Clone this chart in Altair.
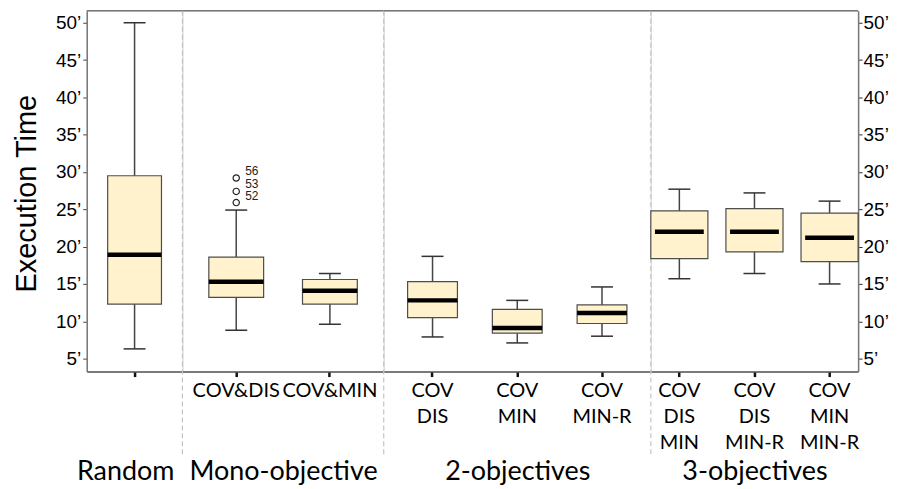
import altair as alt
import pandas as pd

# ---- data ----
categories = ["Random", "COV&DIS", "COV&MIN", "COV|DIS", "COV|MIN", "COV|MIN-R",
              "COV|DIS|MIN", "COV|DIS|MIN-R", "COV|MIN|MIN-R"]
groups = ["Random", "Mono-objective", "Mono-objective",
          "2-objectives", "2-objectives", "2-objectives",
          "3-objectives", "3-objectives", "3-objectives"]
whisker_low = [6.3, 8.8, 9.6, 7.9, 7.1, 8.0, 15.7, 16.4, 15.0]
q1 = [12.3, 13.2, 12.3, 10.5, 8.4, 9.7, 18.4, 19.3, 18.0]
median = [18.9, 15.3, 14.1, 12.8, 9.1, 11.1, 22.0, 22.0, 21.2]
q3 = [29.5, 18.6, 15.6, 15.3, 11.6, 12.2, 24.8, 25.1, 24.5]
whisker_high = [50.0, 24.9, 16.4, 18.7, 12.8, 14.6, 27.7, 27.2, 26.1]

outlier_cat = ["COV&DIS", "COV&DIS", "COV&DIS"]
outlier_values = [29.2, 27.4, 25.9]
outlier_ids = ["56", "53", "52"]

y_ticks = [5, 10, 15, 20, 25, 30, 35, 40, 45, 50]

df = pd.DataFrame({"cat": categories, "group": groups, "low": whisker_low,
                   "q1": q1, "median": median, "q3": q3, "high": whisker_high})
out_df = pd.DataFrame({"cat": outlier_cat, "value": outlier_values, "id": outlier_ids})
one = pd.DataFrame({"k": [0]})

H = 362
yscale = alt.Scale(domain=[3.26, 51.6], nice=False, zero=False)
LABEL_EXPR = "datum.value + '\u2019'"
AXIS_FONT = "Liberation Sans"


def panel(group, width, pi, po, box, title_x, side=None, divider=True):
    sub = df[df["group"] == group]
    order = list(sub["cat"])
    xaxis = alt.Axis(
        title=group, titleFont="Lato", titleFontSize=27, titleFontWeight="normal",
        titleColor="black", titleX=title_x, titleY=108, titleAlign="center",
        titleBaseline="alphabetic",
        labelExpr="datum.label == 'Random' ? '' : split(datum.label, '|')",
        labelFont="Lato", labelFontSize=20, labelColor="black", labelAngle=0,
        labelLineHeight=26, labelPadding=4, labelOverlap=False, labelBound=False,
        labelFlush=False,
        domainColor="#555", domainWidth=1.5, tickColor="#111", tickSize=5, tickWidth=2.5,
    )
    xenc = alt.X("cat:N", sort=order, axis=xaxis,
                 scale=alt.Scale(paddingInner=pi, paddingOuter=po))

    if side == "left":
        yaxis = alt.Axis(orient="left", values=y_ticks, labelExpr=LABEL_EXPR,
                         labelFont=AXIS_FONT, labelFontSize=19, labelColor="black",
                         labelPadding=2, tickSize=4, tickColor="#444",
                         domainColor="#777", domainWidth=1.5, grid=False,
                         titleFont=AXIS_FONT, titleFontSize=29, titleFontWeight="normal",
                         titleColor="black", titleX=-60, titleY=183, titleAngle=270,
                         titleAlign="center", titleBaseline="middle")
        ytitle = "Execution Time"
    elif side == "right":
        yaxis = alt.Axis(orient="right", values=y_ticks, labelExpr=LABEL_EXPR,
                         labelFont=AXIS_FONT, labelFontSize=19, labelColor="black",
                         labelPadding=1, tickSize=4, tickColor="#333",
                         domainColor="#777", domainWidth=1.5, grid=False)
        ytitle = ""
    else:
        yaxis = None
        ytitle = ""

    def Y(field):
        return alt.Y(field, type="quantitative", scale=yscale, axis=yaxis, title=ytitle)

    base = alt.Chart(sub)
    layers = []
    if divider:
        layers.append(alt.Chart(one).mark_rule(color="#c4c4c4", strokeWidth=1.2,
                                               strokeDash=[5, 3]).encode(
            x=alt.value(0), y=alt.value(0), y2=alt.value(445)))
    layers.append(alt.Chart(one).mark_rule(color="#777", strokeWidth=1.5).encode(
        x=alt.value(0), x2=alt.value(width), y=alt.value(0)))
    layers.append(base.mark_rule(color="#444", strokeWidth=1.5, opacity=1).encode(
        x=xenc, y=Y("low"), y2=alt.Y2("high")))
    layers.append(base.mark_tick(color="#333", size=22, thickness=1.5, opacity=1).encode(
        x=xenc, y=Y("low")))
    layers.append(base.mark_tick(color="#333", size=22, thickness=1.5, opacity=1).encode(
        x=xenc, y=Y("high")))
    layers.append(base.mark_bar(fill="#FFF2CC", stroke="#4d4d4d", strokeWidth=1.2,
                                opacity=1).encode(
        x=xenc, y=Y("q1"), y2=alt.Y2("q3")))
    layers.append(base.mark_tick(color="black", size=box, thickness=4.5, opacity=1).encode(
        x=xenc, y=Y("median")))
    osub = out_df[out_df["cat"].isin(order)]
    if len(osub):
        layers.append(alt.Chart(osub).mark_point(filled=False, color="#222", size=40,
                                                 strokeWidth=1.2, opacity=1).encode(
            x=xenc, y=Y("value")))
        layers.append(alt.Chart(osub).mark_text(align="left", baseline="middle", dx=9, dy=-7,
                                                font=AXIS_FONT, fontSize=12,
                                                color="#222").encode(
            x=xenc, y=Y("value"), text="id:N"))
    return alt.layer(*layers).properties(width=width, height=H)


p1 = panel("Random", 96, 0.0, 0.389, 54, 38.5, side="left", divider=False)
p2 = panel("Mono-objective", 202, 0.415, 0.282, 55, 101)
p3 = panel("2-objectives", 268, 0.412, 0.282, 50, 134)
p4 = panel("3-objectives", 208, 0.24, 0.0, 49, 104, side="right")

chart = alt.hconcat(p1, p2, p3, p4, spacing=0, bounds="flush").properties(
    padding={"left": 4, "top": 0, "right": 2, "bottom": 2}
).configure_view(stroke="transparent", fill="#fcfcfc").configure(background="white")

chart.save("out.html", embed_options={"renderer": "svg", "actions": False})
